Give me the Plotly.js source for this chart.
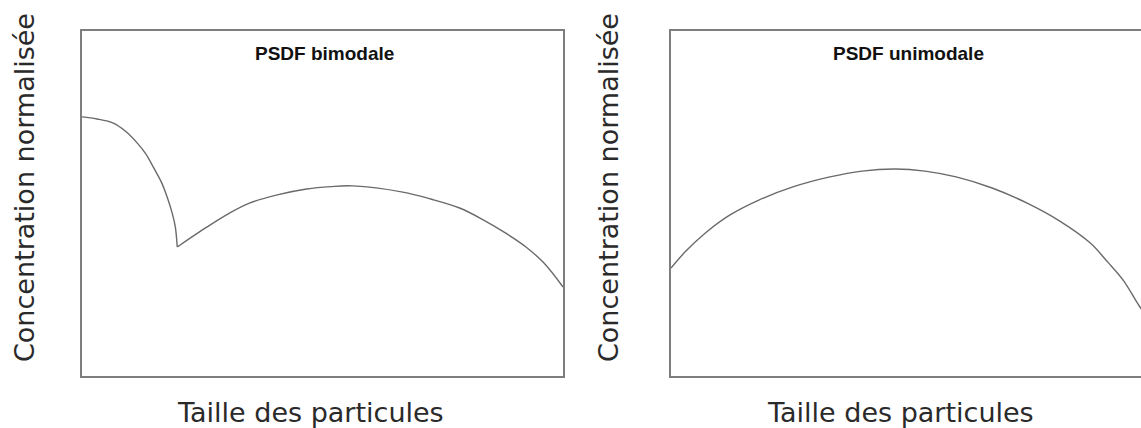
<!DOCTYPE html>
<html>
<head>
<meta charset="utf-8">
<script src="https://cdn.plot.ly/plotly-3.0.1.min.js"></script>
<style>
  html, body { margin: 0; padding: 0; overflow: hidden; background: white; }
  #chart { width: 1160px; height: 428px; }
</style>
</head>
<body>
<div id="chart"></div>
<script>
// Bimodal curve (left panel): falling branch then the second mode
var bimodalFallX = [0, 3.1, 6.5, 9.0, 11.5, 13.3, 14.8, 16.5, 17.7, 18.75, 19.4, 19.8];
var bimodalFallY = [75.1, 74.5, 73.3, 71.0, 67.5, 64.3, 60.6, 56.2, 51.9, 47.2, 43.2, 37.4];
var bimodalRiseX = [19.8, 26.0, 30.4, 34.8, 40.6, 46.7, 51.7, 56.3, 66.7, 72.5, 78.5, 83.5, 88.1, 92.3, 96.0, 100];
var bimodalRiseY = [37.4, 43.2, 47.0, 50.1, 52.5, 54.2, 54.9, 55.1, 53.3, 51.3, 48.7, 45.2, 41.4, 37.4, 32.8, 25.8];

// Unimodal curve (right panel)
var unimodalX = [0, 3.1, 7.1, 12.3, 18.3, 25.4, 33.1, 39.8, 46.7, 52.9, 59.4, 66.9, 74.2, 81.0, 87.3, 91.0, 94.2, 97.7, 100];
var unimodalY = [31.3, 36.2, 41.4, 46.7, 51.0, 54.8, 57.7, 59.4, 60.0, 59.4, 57.7, 54.5, 50.1, 44.9, 38.6, 33.0, 27.8, 20.0, 15.7];

var panelTitles = ['PSDF bimodale', 'PSDF unimodale'];
var xTitle = 'Taille des particules';
var yTitle = 'Concentration normalisée';

var lineStyle = {color: '#6a6a6a', width: 1.4, shape: 'spline', smoothing: 1};

var traces = [
  {x: bimodalFallX, y: bimodalFallY, xaxis: 'x', yaxis: 'y', mode: 'lines', line: lineStyle, hoverinfo: 'skip'},
  {x: bimodalRiseX, y: bimodalRiseY, xaxis: 'x', yaxis: 'y', mode: 'lines', line: lineStyle, hoverinfo: 'skip'},
  {x: unimodalX, y: unimodalY, xaxis: 'x2', yaxis: 'y2', mode: 'lines', line: lineStyle, hoverinfo: 'skip'}
];

function boxAxis(domain, anchor) {
  return {
    domain: domain,
    anchor: anchor,
    range: [0, 100],
    showgrid: false,
    zeroline: false,
    showticklabels: false,
    ticks: '',
    showline: true,
    mirror: true,
    linecolor: '#7e7e7e',
    linewidth: 2,
    fixedrange: true
  };
}

var W = 1160, H = 428;
var leftBox = [82, 563];
var rightBox = [671, 1151];
var yBox = [31, 376];

var yDomain = [(H - yBox[1]) / H, (H - yBox[0]) / H];

var axisTitleFont = {family: 'DejaVu Sans, sans-serif', size: 27, color: '#2a2a2a'};
var panelTitleFont = {family: 'Liberation Sans, Arial, sans-serif', size: 19, color: '#111'};

// text centres, in pixels
var titleX = [324, 908];
var xTitleX = [310, 900];
var yTitleX = [24, 608];

var annotations = [];
for (var i = 0; i < 2; i++) {
  annotations.push({
    xref: 'paper', yref: 'paper', x: titleX[i] / W, y: (H - 54) / H,
    xanchor: 'center', yanchor: 'middle',
    text: '<b>' + panelTitles[i] + '</b>', showarrow: false, font: panelTitleFont
  });
  annotations.push({
    xref: 'paper', yref: 'paper', x: xTitleX[i] / W, y: (H - 412) / H,
    xanchor: 'center', yanchor: 'middle',
    text: xTitle, showarrow: false, font: axisTitleFont
  });
  annotations.push({
    xref: 'paper', yref: 'paper', x: yTitleX[i] / W, y: (H - 188) / H,
    xanchor: 'center', yanchor: 'middle',
    text: yTitle, textangle: -90, showarrow: false, font: axisTitleFont
  });
}

var layout = {
  width: W,
  height: H,
  margin: {l: 0, r: 0, t: 0, b: 0},
  showlegend: false,
  plot_bgcolor: 'white',
  paper_bgcolor: 'white',
  xaxis: boxAxis([leftBox[0] / W, leftBox[1] / W], 'y'),
  yaxis: boxAxis(yDomain, 'x'),
  xaxis2: boxAxis([rightBox[0] / W, rightBox[1] / W], 'y2'),
  yaxis2: boxAxis(yDomain, 'x2'),
  annotations: annotations
};

Plotly.newPlot('chart', traces, layout, {displayModeBar: false, staticPlot: true});
</script>
</body>
</html>
